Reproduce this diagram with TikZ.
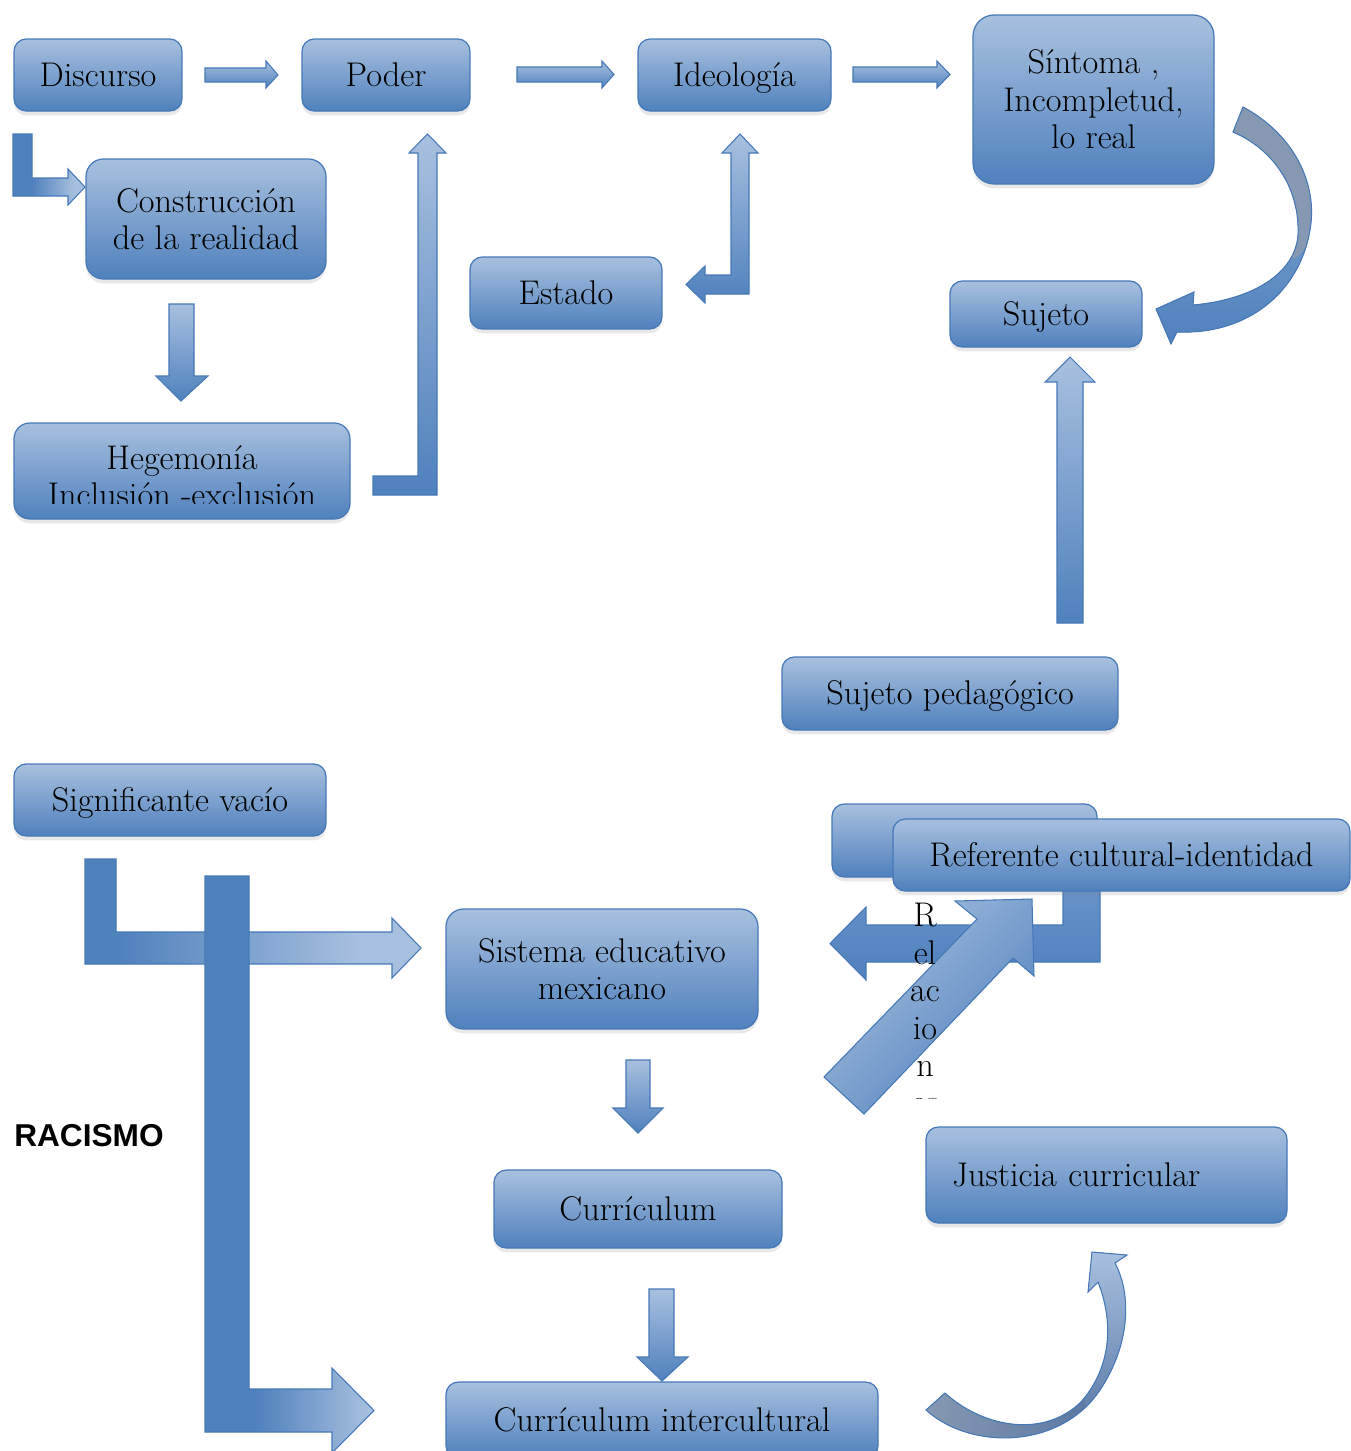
\documentclass[tikz,border=0pt]{standalone}
\usepackage{fontspec}
\newfontfamily\racfont{Liberation Sans}
\usetikzlibrary{shadows}

\definecolor{boxtop}{RGB}{168,192,223}
\definecolor{boxbot}{RGB}{79,129,189}
\definecolor{boxline}{RGB}{70,120,184}
\definecolor{arrmid}{RGB}{106,147,202}
\definecolor{curvgray}{RGB}{134,152,178}
\definecolor{curvdark}{RGB}{80,112,160}

\pgfdeclarehorizontalshading{bendshade}{100bp}{color(0bp)=(boxbot); color(38bp)=(boxbot); color(68bp)=(boxtop); color(100bp)=(boxtop)}
\pgfdeclarehorizontalshading{sigshade}{100bp}{color(0bp)=(boxbot); color(30bp)=(boxbot); color(66bp)=(boxtop); color(100bp)=(boxtop)}
\pgfdeclarehorizontalshading{racshade}{100bp}{color(0bp)=(boxbot); color(40bp)=(boxbot); color(74bp)=(boxtop); color(100bp)=(boxtop)}

% outlines of the two curved arrows
\newcommand{\sintcurve}{(1243,107) .. controls (1295,135) and (1318,185) .. (1310,230)
    .. controls (1300,290) and (1250,335) .. (1177,332) -- (1171,344) -- (1156,309) -- (1194,292) -- (1193,305)
    .. controls (1250,300) and (1295,275) .. (1298,235) .. controls (1300,190) and (1275,150) .. (1233,132) -- cycle}
\newcommand{\justcurve}{(926,1410) .. controls (970,1450) and (1060,1450) .. (1100,1390)
    .. controls (1130,1345) and (1132,1295) .. (1115,1263) -- (1127,1255) -- (1092,1252) -- (1088,1292) -- (1098,1282)
    .. controls (1115,1325) and (1110,1370) .. (1080,1403) .. controls (1040,1440) and (980,1425) .. (945,1393) -- cycle}

\tikzset{
  boxtext/.style={inner sep=0pt, align=center, font=\fontsize{19.5}{21.3}\selectfont},
  box/.style={boxtext, draw=boxline, line width=0.7pt, rounded corners=7pt,
    top color=boxtop, bottom color=boxbot,
    drop shadow={opacity=0.18, shadow xshift=0pt, shadow yshift=-2.5pt}},
  sbox/.style={box, text height=16pt, text depth=3pt},
  wh/.style 2 args={minimum width=#1*0.02cm, minimum height=#2*0.02cm},
  barrow/.style={draw=boxline, line width=0.6pt, top color=boxtop, bottom color=boxbot},
  bent/.style={draw=boxline, line width=0.6pt, shade, shading=#1},
  curv/.style={draw=boxline, line width=0.6pt}
}

\begin{document}
\begin{tikzpicture}[x=0.02cm, y=-0.02cm]
  \useasboundingbox (0,0) rectangle (1351,1451);

  % Upper part
  \node[sbox, wh={168}{72}] (disc) at (98,75) {Discurso};
  \node[sbox, wh={168}{72}] (poder) at (386,75) {Poder};
  \node[sbox, wh={193}{72}] (ideo) at (734.5,75) {Ideología};
  \node[box, wh={241}{169}, rounded corners=12pt] (sint) at (1093.5,99.5) {Síntoma ,\\Incompletud,\\lo real};
  \node[box, wh={240}{120}, rounded corners=10pt] (constr) at (206,219) {Construcción\\de la realidad};
  \node[sbox, wh={192}{72}] (estado) at (566,293) {Estado};
  \node[sbox, wh={192}{66}] (sujeto) at (1046,314) {Sujeto};
  \node[box, wh={336}{96}, rounded corners=9pt] (hegem) at (182,471) {};
  \begin{scope}
    \clip (14,423) rectangle (350,503);
    \node[boxtext, anchor=north] (hegtxt) at (182,445) {Hegemonía\\Inclusión -exclusión};
  \end{scope}
  \node[sbox, wh={336}{73}] (sujped) at (950,693.5) {Sujeto pedagógico};

  % Straight block arrows
  \draw[barrow] (205,68) -- (266,68) -- (266,61) -- (278,75) -- (266,88) -- (266,82) -- (205,82) -- cycle;
  \draw[barrow] (517,67) -- (602,67) -- (602,61) -- (614,74.5) -- (602,88) -- (602,82) -- (517,82) -- cycle;
  \draw[barrow] (853,67) -- (937,67) -- (937,61) -- (950,74.5) -- (937,88) -- (937,82) -- (853,82) -- cycle;
  \draw[barrow] (169,304) -- (194,304) -- (194,376) -- (208,376) -- (181,401) -- (156,376) -- (169,376) -- cycle;
  \draw[barrow] (1057,623) -- (1057,382) -- (1045,382) -- (1070,357) -- (1095,382) -- (1083,382) -- (1083,623) -- cycle;

  % Bent arrows
  \draw[bent=bendshade] (13,134) -- (32,134) -- (32,178) -- (68,178) -- (68,169) -- (85,187) -- (68,205) -- (68,196) -- (13,196) -- cycle;
  \draw[barrow] (373,476) -- (418,476) -- (418,153) -- (409,153) -- (427.5,134) -- (446,153) -- (437,153) -- (437,495) -- (373,495) -- cycle;
  \draw[barrow] (740,134) -- (758,153) -- (749,153) -- (749,294) -- (705,294) -- (705,303) -- (686,284.5) -- (705,266) -- (705,275) -- (731,275) -- (731,153) -- (722,153) -- cycle;

  % Curved arrow, grey back and blue front
  \fill[top color=boxtop!70!boxbot, bottom color=boxbot] \sintcurve;
  \begin{scope}
    \clip (1200,90) -- (1330,90) -- (1330,222) -- (1296,258) -- (1200,258) -- cycle;
    \fill[curvgray] \sintcurve;
  \end{scope}
  \draw[curv] \sintcurve;

  % Lower part
  \node[sbox, wh={312}{72}] (signif) at (170,800) {Significante vacío};
  \node[box, wh={265}{73}] (refback) at (964.5,840.5) {};
  \draw[barrow, top color=arrmid] (1100,880) -- (1100,962) -- (866,962) -- (866,980) -- (830,943.5) -- (866,907) -- (866,925) -- (1063,925) -- (1063,880) -- cycle;
  \node[sbox, wh={457}{72}] (refer) at (1121.5,855) {Referente cultural-identidad};
  \node[box, wh={312}{120}, rounded corners=10pt] (sistema) at (602,969) {Sistema educativo\\mexicano};
  \node[sbox, wh={288}{78}] (curric) at (638,1209) {Currículum};
  \node[sbox, wh={432}{76}] (curint) at (662,1420) {Currículum intercultural};
  \node[sbox, wh={361}{96}, align=left, text width=309*0.02cm] (justicia) at (1106.5,1175) {Justicia curricular};
  \node[font=\racfont\bfseries\fontsize{18}{22}\selectfont, inner sep=0pt] (racismo) at (89,1136) {RACISMO};

  \draw[bent=sigshade] (85,859) -- (116,859) -- (116,932) -- (392,932) -- (392,918) -- (421,948) -- (392,978) -- (392,964) -- (85,964) -- cycle;
  \draw[bent=racshade] (205,876) -- (249,876) -- (249,1389) -- (332,1389) -- (332,1368) -- (374,1410.5) -- (332,1453) -- (332,1432) -- (205,1432) -- cycle;
  \draw[barrow] (626,1060) -- (650,1060) -- (650,1108) -- (663,1108) -- (638,1133) -- (613,1108) -- (626,1108) -- cycle;
  \draw[barrow] (649,1289) -- (674,1289) -- (674,1357) -- (688,1357) -- (662,1381) -- (637,1357) -- (649,1357) -- cycle;
  \draw[barrow, shading angle=45] (824,1077) -- (977,919) -- (955,901) -- (1032,899) -- (1034,976) -- (1013,958) -- (864,1114) -- cycle;

  % Curved arrow to Justicia
  \begin{scope}
    \clip (900,1380) rectangle (1085,1460);
    \fill[left color=curvgray, right color=curvdark] \justcurve;
  \end{scope}
  \begin{scope}
    \clip (1085,1230) rectangle (1150,1460);
    \fill[top color=boxtop, bottom color=curvdark] \justcurve;
  \end{scope}
  \draw[curv] \justcurve;

  % Vertical label
  \begin{scope}
    \clip (880,895) rectangle (970,1098.5);
    \node[boxtext, anchor=north] (relac) at (925,903) {R\\el\\ac\\io\\n\\es};
  \end{scope}
\end{tikzpicture}
\end{document}
